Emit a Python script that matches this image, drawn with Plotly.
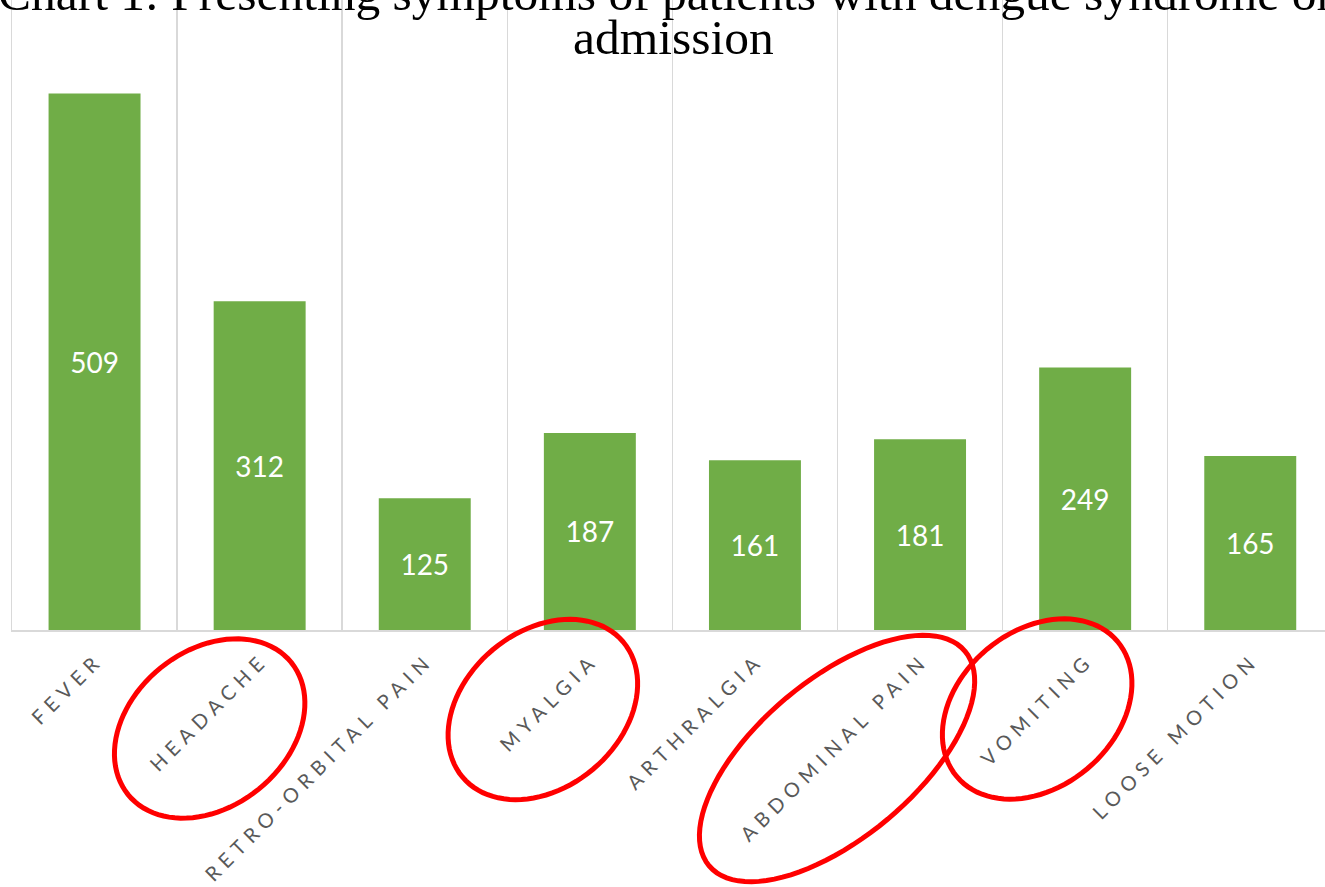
import math
import plotly.graph_objects as go

# ---------------- data ----------------
categories = ["FEVER", "HEADACHE", "RETRO-ORBITAL PAIN", "MYALGIA",
              "ARTHRALGIA", "ABDOMINAL PAIN", "VOMITING", "LOOSE MOTION"]
values = [509, 312, 125, 187, 161, 181, 249, 165]
title_line1 = "Chart 1: Presenting symptoms of patients with dengue syndrome on"
title_line2 = "admission"
highlighted = ["HEADACHE", "MYALGIA", "ABDOMINAL PAIN", "VOMITING"]

# ---------------- layout geometry ----------------
W, H = 1325, 887
ML, MR, MT, MB = 12, 0, 0, 257
CAT_PX = 165.1            # pixel width of one category slot
PX_PER_UNIT = 1.054       # vertical pixels per count
plot_w = W - ML - MR
plot_h = H - MT - MB
x0 = -0.5
x1 = x0 + plot_w / CAT_PX
y_max = plot_h / PX_PER_UNIT

GREEN = "#70AD47"
GRID = "#D9D9D9"
LABEL = "#595959"
RED = "#FF0000"

fig = go.Figure(
    go.Bar(
        x=categories,
        y=values,
        text=[str(v) for v in values],
        textposition="inside",
        insidetextanchor="middle",
        textangle=0,
        textfont=dict(family="Lato", size=28, color="white"),
        marker=dict(color=GREEN, line=dict(width=0)),
        width=0.557,
        hoverinfo="skip",
    )
)

# ---------------- highlight ellipses (decoration) ----------------
def cat_px(idx):
    return ML + (idx - x0) / (x1 - x0) * plot_w

def to_paper(px, py):
    return (px - ML) / plot_w, (MT + plot_h - py) / plot_h

# per highlighted label: (offset from category centre px, centre y px, semi-major, semi-minor, angle deg)
ellipse_style = {
    "HEADACHE": (-50, 728.5, 105, 78, 39),
    "MYALGIA": (-47, 709.5, 105, 78, 40),
    "ABDOMINAL PAIN": (-83, 758.5, 167, 79, 40),
    "VOMITING": (-48, 709.0, 105, 78, 40),
}
shapes = []
for name in highlighted:
    dx, cy, a, b, ang = ellipse_style[name]
    cx = cat_px(categories.index(name)) + dx
    phi = math.radians(ang)
    pts = []
    n = 96
    for k in range(n):
        t = 2 * math.pi * k / n
        px = cx + a * math.cos(t) * math.cos(phi) - b * math.sin(t) * math.sin(phi)
        py = cy - (a * math.cos(t) * math.sin(phi) + b * math.sin(t) * math.cos(phi))
        u, v = to_paper(px, py)
        pts.append(f"{u:.5f},{v:.5f}")
    path = "M " + " L ".join(pts) + " Z"
    shapes.append(dict(type="path", xref="paper", yref="paper", path=path,
                       line=dict(color=RED, width=5), fillcolor="rgba(0,0,0,0)",
                       layer="above"))

# ---------------- title (two lines, top one partly cropped) ----------------
title_font = dict(family="Liberation Serif", size=49.5, color="#000000")
annotations = [
    dict(text=title_line1, xref="paper", yref="paper", x=(670 - ML) / plot_w,
         y=to_paper(0, 23.0)[1],
         xanchor="center", yanchor="bottom", showarrow=False, font=title_font),
    dict(text=title_line2, xref="paper", yref="paper", x=(673 - ML) / plot_w,
         y=to_paper(0, 67.5)[1],
         xanchor="center", yanchor="bottom", showarrow=False, font=title_font),
]

fig.update_layout(
    width=W, height=H,
    margin=dict(l=ML, r=MR, t=MT, b=MB, pad=0),
    paper_bgcolor="white", plot_bgcolor="white",
    showlegend=False,
    bargap=0.443,
    shapes=shapes,
    annotations=annotations,
    xaxis=dict(
        type="category",
        range=[x0, x1],
        tickson="boundaries",
        showgrid=True, gridcolor=GRID, gridwidth=1.5,
        showline=True, linecolor=GRID, linewidth=1.5,
        ticks="",
        tickangle=-45,
        ticklabelstandoff=9,
        ticklabelshift=3,
        tickfont=dict(family="Lato", size=20, color=LABEL),
        automargin=False,
        fixedrange=True,
    ),
    yaxis=dict(
        range=[0, y_max],
        showgrid=False, zeroline=False,
        showline=True, linecolor=GRID, linewidth=1.5,
        showticklabels=False, ticks="",
        automargin=False,
        fixedrange=True,
    ),
)

post = """
var gd = document.getElementById('{plot_id}');
function spaceTicks(){
  gd.querySelectorAll('.xtick text').forEach(function(t){ t.style.letterSpacing = '6.1px'; });
}
spaceTicks();
gd.on && gd.on('plotly_afterplot', spaceTicks);
"""

fig.write_html("out.html", config={"displayModeBar": False, "staticPlot": True}, post_script=post)
